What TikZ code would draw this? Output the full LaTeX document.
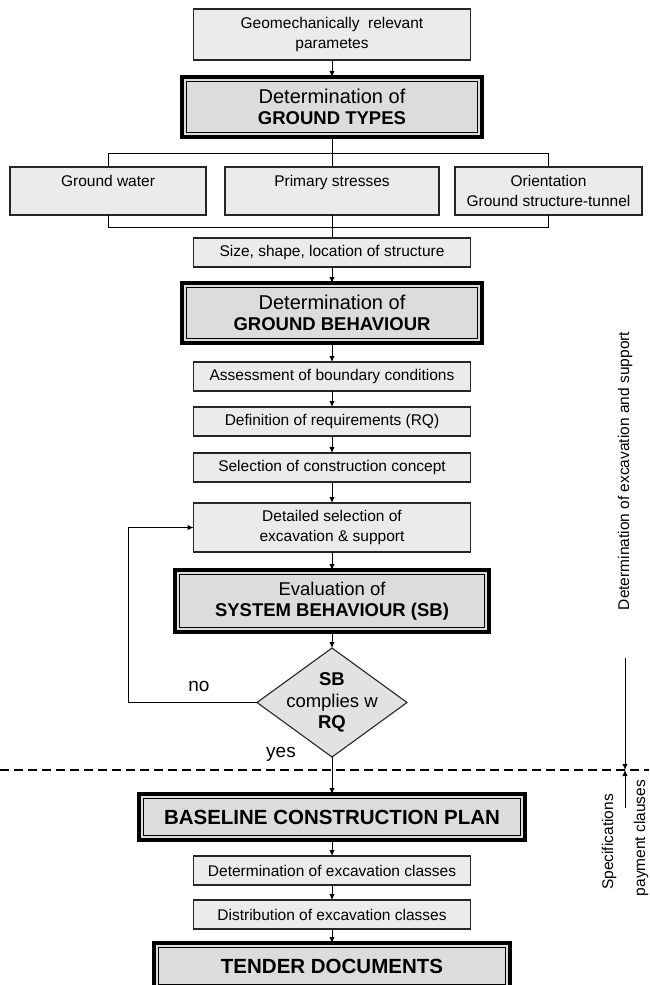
\documentclass[tikz,border=0pt]{standalone}
\usepackage{fontspec}
\setmainfont{Liberation Sans}
\usetikzlibrary{shapes.geometric,arrows.meta}
\definecolor{smallfill}{HTML}{EBEBEB}
\definecolor{bigfill}{HTML}{DCDCDC}
\definecolor{diafill}{HTML}{E2E2E2}
\newcommand{\regbig}{\fontsize{20}{20}\selectfont}
\begin{document}
\begin{tikzpicture}[x=1pt,y=-1pt,
  sbox/.style={draw=black!85, line width=1.1pt, fill=smallfill, minimum width=277pt,
    minimum height=29pt, inner sep=0pt, outer sep=0pt, align=center,
    font=\fontsize{15.5}{19.5}\selectfont},
  tbox/.style={draw=black, line width=3.4pt, fill=bigfill, inner sep=0pt, outer sep=0pt,
    align=center, font=\fontsize{18.5}{20.5}\selectfont},
  dia/.style={shape=diamond, draw=black!85, line width=1.1pt, fill=diafill,
    minimum width=150pt, minimum height=109pt, inner sep=0pt, outer sep=0pt},
  ln/.style={line width=1pt},
  arr/.style={line width=1pt, -{Latex[length=6pt,width=5.5pt]}},
  lbl/.style={font=\fontsize{19}{21}\selectfont, inner sep=0pt},
  vlbl/.style={rotate=90, font=\fontsize{15.5}{19}\selectfont, inner sep=0pt}]
\useasboundingbox (0,0) rectangle (649,985);

% main column
\node[sbox, minimum height=51pt] (top) at (332,34.5) {Geomechanically\ \ relevant\\parametes};
\node[tbox, minimum width=300pt, minimum height=60pt] (gt) at (332,107) {{\regbig Determination of}\\\textbf{GROUND TYPES}};
\node[sbox, minimum width=196pt, minimum height=48pt] (gw) at (108,191) {Ground water\\\mbox{}};
\node[sbox, minimum width=214pt, minimum height=48pt] (ps) at (332,191) {Primary stresses\\\mbox{}};
\node[sbox, minimum width=187pt, minimum height=48pt] (or) at (548.5,191) {Orientation\\Ground structure-tunnel};
\node[sbox] (size) at (332,252.5) {Size, shape, location of structure};
\node[tbox, minimum width=300pt, minimum height=60pt] (gb) at (332,313) {{\regbig Determination of}\\\textbf{GROUND BEHAVIOUR}};
\node[sbox] (as) at (332,376.5) {Assessment of boundary conditions};
\node[sbox] (df) at (332,421.5) {Definition of requirements (RQ)};
\node[sbox] (sc) at (332,467.5) {Selection of construction concept};
\node[sbox, minimum height=49pt] (det) at (332,527.5) {Detailed selection of\\excavation \& support};
\node[tbox, minimum width=314pt, minimum height=62pt] (sb) at (332,601) {Evaluation of\\\textbf{SYSTEM BEHAVIOUR (SB)}};
\node[dia] (dm) at (332,702.5) {};
\node[align=center, inner sep=0pt, font=\fontsize{18.5}{21.5}\selectfont] (dmt) at (dm.center) {\textbf{SB}\\complies w\\\textbf{RQ}};
\node[tbox, minimum width=386pt, minimum height=46pt, font=\fontsize{20.5}{23}\selectfont] (bcp) at (332,817) {\textbf{BASELINE CONSTRUCTION PLAN}};
\node[sbox] (dc) at (332,870.5) {Determination of excavation classes};
\node[sbox] (dc2) at (332,914.5) {Distribution of excavation classes};
\node[tbox, minimum width=356pt, minimum height=46pt, font=\fontsize{20.5}{23}\selectfont] (td) at (332,966) {\textbf{TENDER DOCUMENTS}};

% inner thin frames of the thick boxes
\foreach \n in {gt,gb,sb,bcp,td}
  \draw[line width=0.9pt] ([shift={(4.5,4.5)}]\n.north west) rectangle ([shift={(-4.5,-4.5)}]\n.south east);

% connectors
\draw[arr] (top) -- (gt);
\coordinate (bt) at (0,153);
\coordinate (bj) at (0,227);
\draw[ln] (gt.south) -- (ps.north);
\draw[ln] (gw.north) -- (gw.north |- bt) -- (or.north |- bt) -- (or.north);
\draw[ln] (gw.south) -- (gw.south |- bj) -- (or.south |- bj) -- (or.south);
\draw[ln] (ps.south) -- (size.north);
\draw[arr] (size) -- (gb);
\draw[arr] (gb) -- (as);
\draw[arr] (as) -- (df);
\draw[arr] (df) -- (sc);
\draw[arr] (sc) -- (det);
\draw[arr] (det) -- (sb);
\draw[arr] (sb) -- (dm.north);
\coordinate (lp) at (128,0);
\draw[arr] (dm.west) -- (dm.west -| lp) -- (det.west -| lp) -- (det.west);
\draw[arr] (dm.south) -- (bcp);
\draw[arr] (bcp) -- (dc);
\draw[arr] (dc) -- (dc2);
\draw[arr] (dc2) -- (td);

\node[lbl] (no) at (199,686) {no};
\node[lbl] (yes) at (281,754) {yes};

% dashed separator
\coordinate (dl) at (0,770);
\coordinate (dr) at (649,770);
\draw[line width=1.2pt, dash pattern=on 9pt off 5pt] (dl) -- (dr);

% right-hand annotations
\coordinate (a1) at (625,658);
\coordinate (a2) at (625,770);
\coordinate (a3) at (625,808);
\draw[arr] (a1) -- (a2);
\draw[arr] (a3) -- (a2);
\node[vlbl] (vt) at (625,471) {Determination of excavation and support};
\node[vlbl] (spec) at (609,842) {Specifications};
\node[vlbl] (pay) at (641,838) {payment clauses};
\end{tikzpicture}
\end{document}
